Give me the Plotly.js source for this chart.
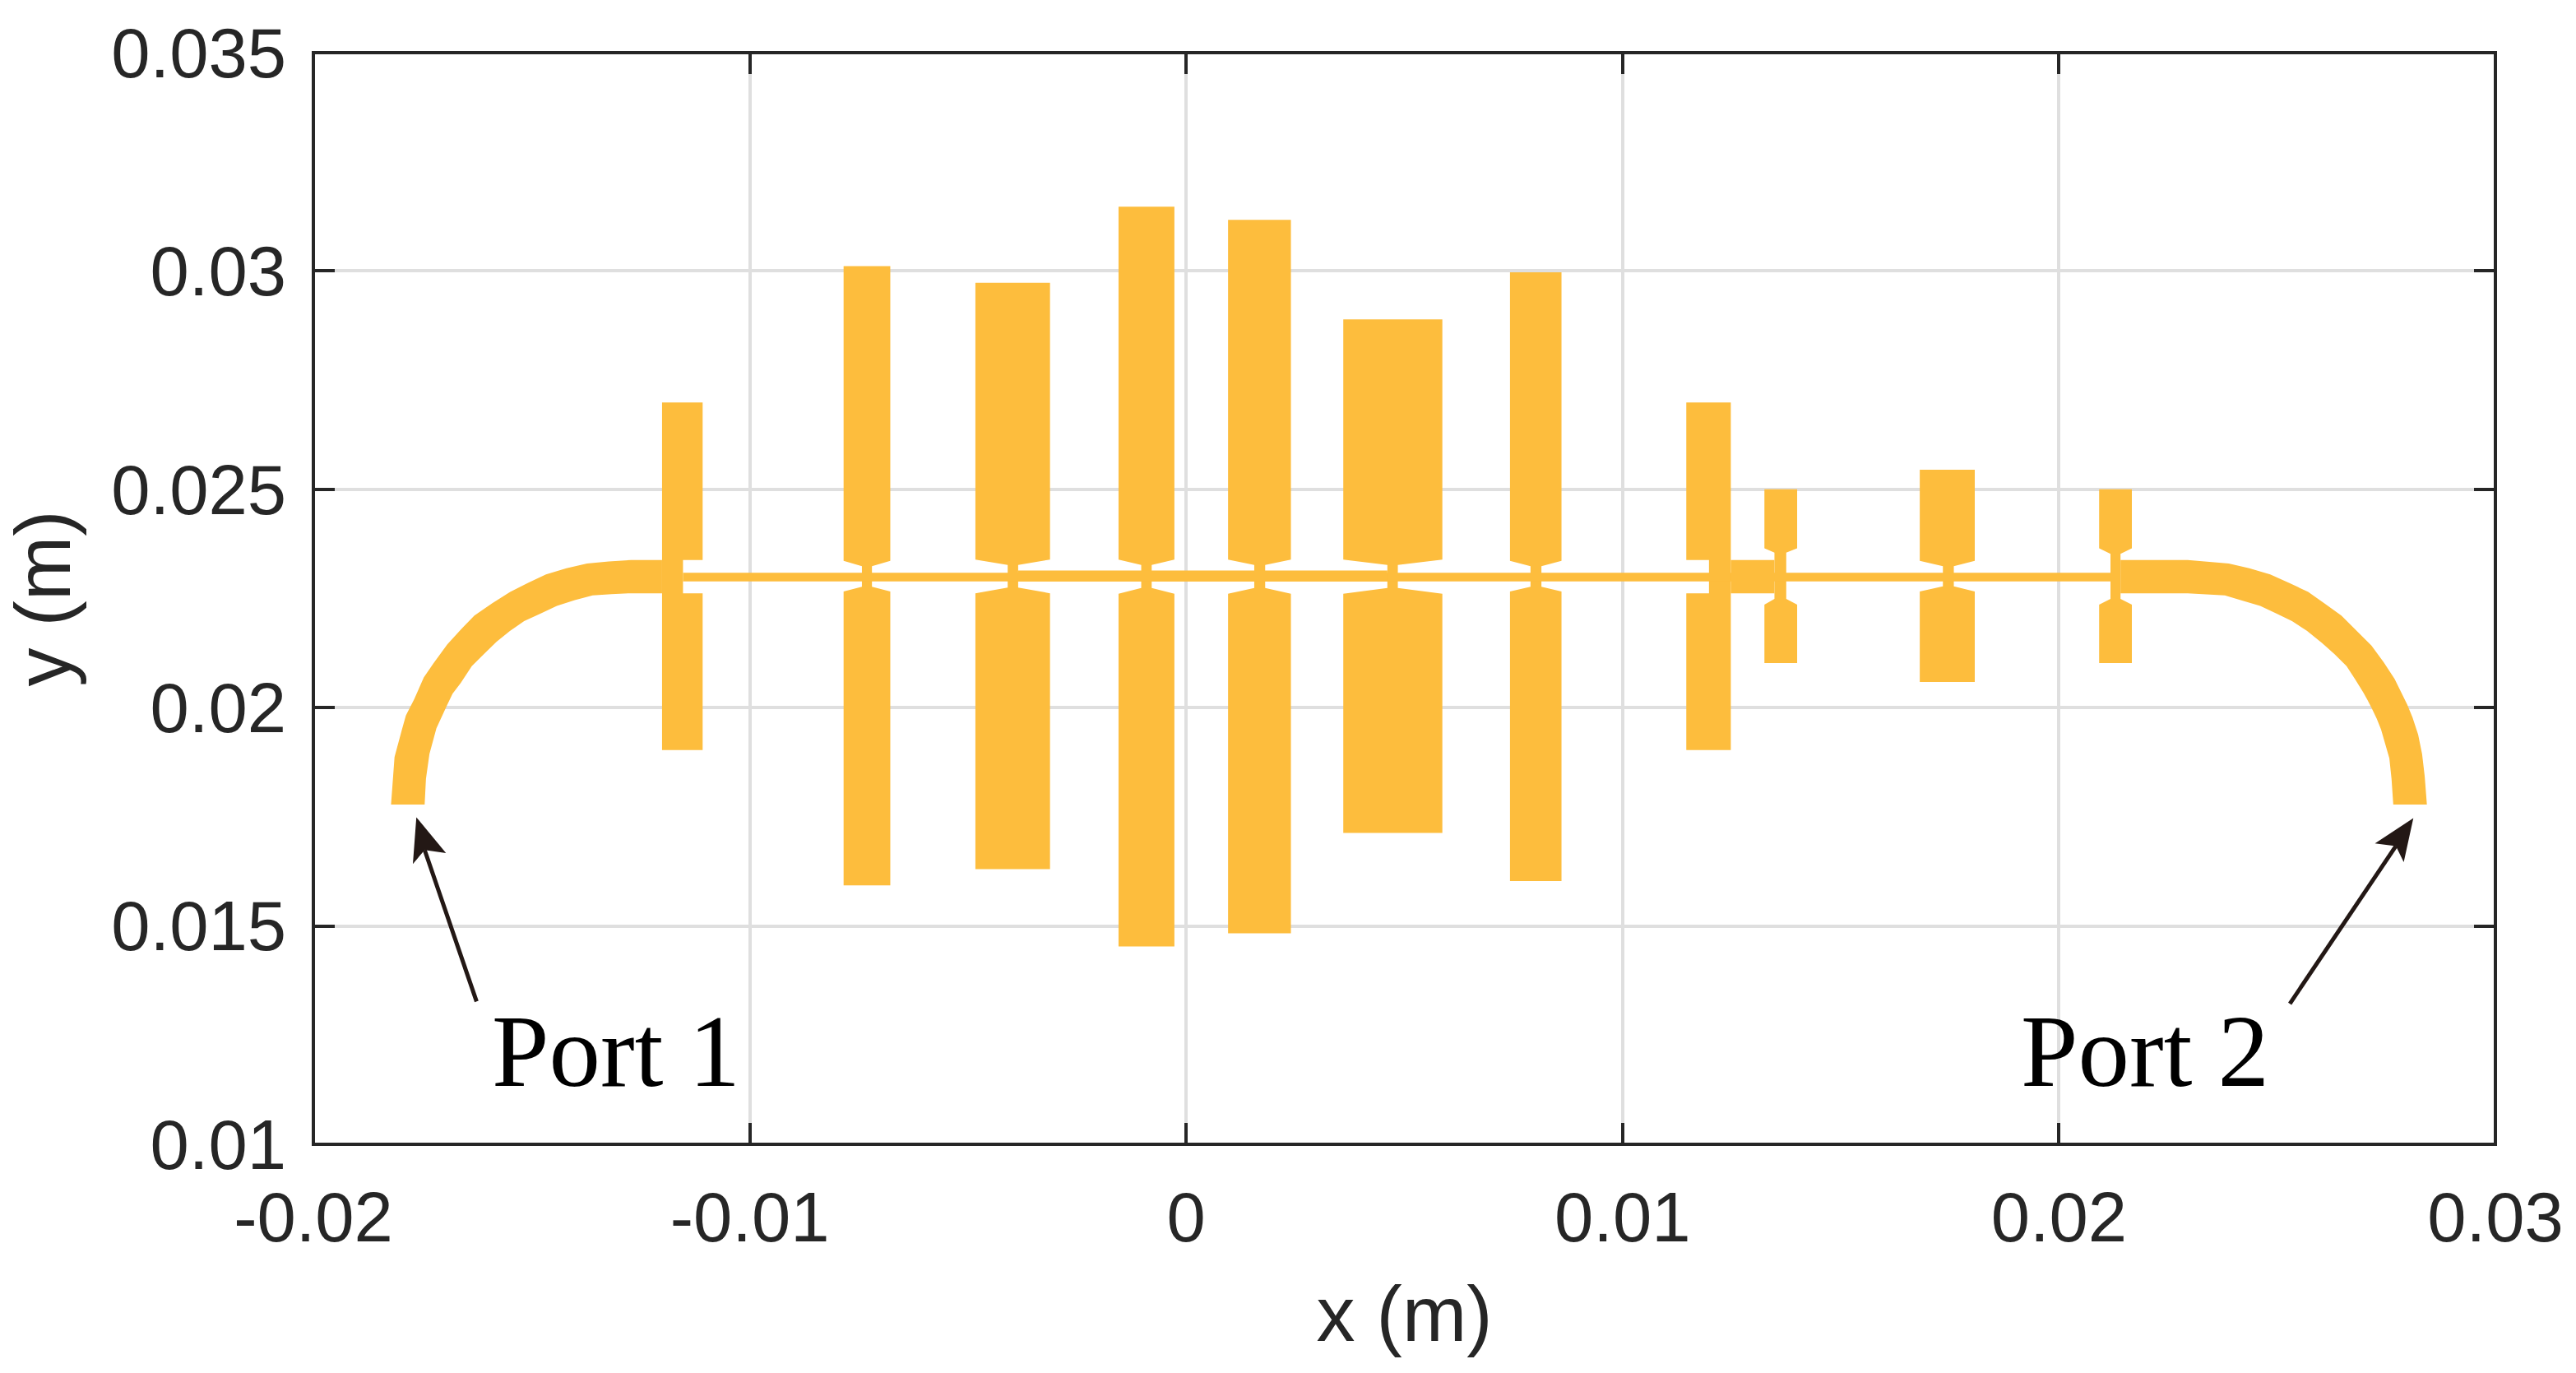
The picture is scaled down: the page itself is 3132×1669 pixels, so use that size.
<!DOCTYPE html>
<html>
<head>
<meta charset="utf-8">
<script src="https://cdn.plot.ly/plotly-3.0.1.min.js"></script>
<style>html,body{margin:0;padding:0;background:#fff}</style>
</head>
<body>
<div id="chart" style="width:3132px;height:1669px"></div>
<script>
// Tick values and labels
const xTickValues = [-0.02, -0.01, 0, 0.01, 0.02, 0.03];
const xTickLabels = ['-0.02', '-0.01', '0', '0.01', '0.02', '0.03'];
const yTickValues = [0.01, 0.015, 0.02, 0.025, 0.03, 0.035];
const yTickLabels = ['0.01', '0.015', '0.02', '0.025', '0.03', '0.035'];

// Resonator stubs (metres), one entry per stub, left to right
const stubLeft   = [-0.01201, -0.00785, -0.00483, -0.00155, 0.00096, 0.0036, 0.00742, 0.01146, 0.01325, 0.01681, 0.02092];
const stubRight  = [-0.01108, -0.00678, -0.00312, -0.00027, 0.0024, 0.00587, 0.0086, 0.01248, 0.014, 0.01807, 0.02167];
const stubTop    = [0.02699, 0.03011, 0.02973, 0.03147, 0.03117, 0.02889, 0.02997, 0.02699, 0.025, 0.02545, 0.025];
const stubBottom = [0.01903, 0.01593, 0.0163, 0.01453, 0.01483, 0.01713, 0.01603, 0.01903, 0.02102, 0.02059, 0.02102];
const neckLeft   = [-0.01201, -0.00743, -0.00409, -0.00103, 0.00156, 0.00461, 0.00789, 0.01198, 0.01348, 0.01734, 0.02118];
const neckRight  = [-0.01153, -0.0072, -0.00385, -0.00079, 0.00181, 0.00485, 0.00814, 0.01248, 0.01375, 0.01759, 0.02141];
const upperShoulder = [0.02338, 0.02336, 0.02339, 0.02339, 0.02339, 0.02339, 0.02336, 0.02338, 0.02365, 0.02336, 0.02365];
const upperNeck     = [0.02338, 0.02324, 0.02327, 0.02327, 0.02327, 0.02327, 0.02324, 0.02338, 0.02355, 0.02324, 0.02352];
const lowerNeck     = [0.02262, 0.02277, 0.02275, 0.02274, 0.02274, 0.02274, 0.02277, 0.02262, 0.02249, 0.02278, 0.02249];
const lowerShoulder = [0.02262, 0.02266, 0.02262, 0.02261, 0.02261, 0.02261, 0.02266, 0.02262, 0.02236, 0.02266, 0.02236];

// Thin central line segments
const lineStartX = [-0.01153, -0.00385];
const lineEndX   = [0.02118, 0.00461];
const lineLowY   = [0.02289, 0.02289];
const lineHighY  = [0.02309, 0.02314];

// Wide block between the 8th and 9th stubs
const blockX = [0.01248, 0.01348, 0.01348, 0.01248];
const blockY = [0.02338, 0.02338, 0.02262, 0.02262];

// Left feed curve (Port 1)
const leftOuterX = [-0.01822, -0.01814, -0.01797, -0.01788, -0.01769, -0.01747, -0.01725, -0.01693, -0.01662, -0.01631, -0.0159, -0.01549, -0.01508, -0.01467, -0.0142, -0.01373, -0.01323, -0.01272, -0.01201];
const leftOuterY = [0.01778, 0.01887, 0.0195, 0.01982, 0.02019, 0.02069, 0.02101, 0.02145, 0.02179, 0.02211, 0.02239, 0.02265, 0.02286, 0.02305, 0.02319, 0.0233, 0.02335, 0.02338, 0.02338];
const leftInnerX = [-0.01745, -0.01742, -0.01734, -0.01718, -0.01693, -0.01681, -0.01662, -0.01637, -0.01609, -0.0158, -0.01549, -0.01517, -0.0148, -0.01442, -0.01401, -0.0136, -0.01317, -0.01272, -0.01201];
const leftInnerY = [0.01778, 0.01837, 0.01894, 0.01953, 0.02007, 0.02032, 0.02057, 0.02095, 0.02123, 0.02151, 0.02176, 0.02198, 0.02215, 0.02233, 0.02246, 0.02257, 0.0226, 0.02262, 0.02262];

// Right feed curve (Port 2)
const rightOuterX = [0.02141, 0.02295, 0.02389, 0.02436, 0.02484, 0.02527, 0.02571, 0.02609, 0.02647, 0.02681, 0.02716, 0.02744, 0.02769, 0.02798, 0.0281, 0.02823, 0.02832, 0.02838, 0.02843];
const rightOuterY = [0.02338, 0.02338, 0.0233, 0.02319, 0.02305, 0.02286, 0.02265, 0.02238, 0.02211, 0.02177, 0.02142, 0.02104, 0.02066, 0.02007, 0.01978, 0.01938, 0.01894, 0.01843, 0.01778];
const rightInnerX = [0.02141, 0.02295, 0.0238, 0.02421, 0.02461, 0.02499, 0.02534, 0.02568, 0.02603, 0.02631, 0.02659, 0.02678, 0.02697, 0.02706, 0.02716, 0.02728, 0.02738, 0.02757, 0.02762, 0.02766];
const rightInnerY = [0.02262, 0.02262, 0.02257, 0.02245, 0.02233, 0.02215, 0.02198, 0.02176, 0.02148, 0.02123, 0.02095, 0.02066, 0.02035, 0.02019, 0.02, 0.01975, 0.0195, 0.01884, 0.01837, 0.01778];

// Port callouts
const portNames = ['Port 1', 'Port 2'];
const portLabelX = [-0.01307, 0.02198];
const portLabelY = [0.01213, 0.01213];
const arrowShaftX = [[-0.01626, -0.01745], [0.02529, 0.02772]];
const arrowShaftY = [[0.01327, 0.01674], [0.01322, 0.01683]];
const arrowHeadX = [[-0.01764, -0.01772, -0.01745, -0.01696, -0.01764], [0.02812, 0.02724, 0.02772, 0.0279, 0.02812]];
const arrowHeadY = [[0.01749, 0.01642, 0.01674, 0.01667, 0.01749], [0.01747, 0.01689, 0.01683, 0.01646, 0.01747]];

const METAL = '#FDBD3D';
const INK = '#262626';
const GRID = '#dfdfdf';
const ARROW = '#231815';

function piece(x, y, colour) {
  const c = colour || METAL;
  return {x: x, y: y, type: 'scatter', mode: 'lines', fill: 'toself', fillcolor: c,
          line: {width: 0, color: c, simplify: false}, hoverinfo: 'skip', showlegend: false};
}

const traces = [];
stubLeft.forEach((_, i) => {
  traces.push(piece(
    [stubLeft[i], stubRight[i], stubRight[i], neckRight[i], neckRight[i], stubRight[i], stubRight[i], stubLeft[i], stubLeft[i], neckLeft[i], neckLeft[i], stubLeft[i], stubLeft[i]],
    [stubTop[i], stubTop[i], upperShoulder[i], upperNeck[i], lowerNeck[i], lowerShoulder[i], stubBottom[i], stubBottom[i], lowerShoulder[i], lowerNeck[i], upperNeck[i], upperShoulder[i], stubTop[i]]
  ));
});
lineStartX.forEach((_, i) => {
  traces.push(piece(
    [lineStartX[i], lineEndX[i], lineEndX[i], lineStartX[i], lineStartX[i]],
    [lineHighY[i], lineHighY[i], lineLowY[i], lineLowY[i], lineHighY[i]]
  ));
});
traces.push(piece(blockX.concat(blockX[0]), blockY.concat(blockY[0])));
traces.push(piece(leftOuterX.concat(leftInnerX.slice().reverse()), leftOuterY.concat(leftInnerY.slice().reverse())));
traces.push(piece(rightOuterX.concat(rightInnerX.slice().reverse()), rightOuterY.concat(rightInnerY.slice().reverse())));

portNames.forEach((_, i) => {
  traces.push({x: arrowShaftX[i], y: arrowShaftY[i], type: 'scatter', mode: 'lines',
    line: {width: 5, color: ARROW}, hoverinfo: 'skip', showlegend: false});
  traces.push(piece(arrowHeadX[i], arrowHeadY[i], ARROW));
});

const annotations = portNames.map((name, i) => ({
  x: portLabelX[i], y: portLabelY[i], xref: 'x', yref: 'y', text: name, showarrow: false,
  xanchor: 'center', yanchor: 'middle',
  font: {family: '"Liberation Serif", serif', size: 125, color: '#000000'}
}));

const axisCommon = {
  showgrid: true, gridcolor: GRID, gridwidth: 4, zeroline: false, showline: false,
  ticks: 'inside', ticklen: 26, tickwidth: 4, tickcolor: INK, mirror: 'ticks',
  tickmode: 'array', tickfont: {family: '"Liberation Sans", Arial, sans-serif', size: 85, color: INK}
};

const layout = {
  width: 3132, height: 1669,
  margin: {l: 381, r: 98, t: 64, b: 278, pad: 0},
  paper_bgcolor: '#ffffff', plot_bgcolor: '#ffffff',
  showlegend: false,
  xaxis: Object.assign({}, axisCommon, {
    automargin: false,
    range: [-0.02, 0.03], tickvals: xTickValues, ticktext: xTickLabels, ticklabelstandoff: 32,
    title: {text: 'x (m)', standoff: 38, font: {family: '"Liberation Sans", Arial, sans-serif', size: 94, color: INK}}
  }),
  yaxis: Object.assign({}, axisCommon, {
    automargin: true,
    range: [0.01, 0.035], tickvals: yTickValues, ticktext: yTickLabels, ticklabelstandoff: 32,
    title: {text: 'y (m)', standoff: 24, font: {family: '"Liberation Sans", Arial, sans-serif', size: 94, color: INK}}
  }),
  shapes: [{type: 'rect', xref: 'paper', yref: 'paper', x0: 0, x1: 1, y0: 0, y1: 1,
            line: {color: INK, width: 4}, fillcolor: 'rgba(0,0,0,0)', layer: 'above'}],
  annotations: annotations
};

Plotly.newPlot('chart', traces, layout, {displayModeBar: false, responsive: false});
</script>
</body>
</html>
